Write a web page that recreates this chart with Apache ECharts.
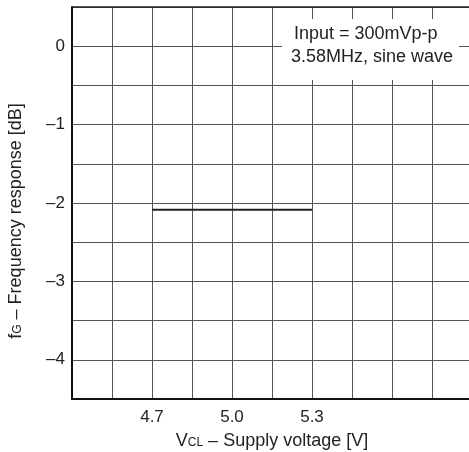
<!DOCTYPE html>
<html>
<head>
<meta charset="utf-8">
<script src="https://cdn.jsdelivr.net/npm/echarts@6/dist/echarts.min.js"></script>
<style>html,body{margin:0;padding:0;background:#fff;}#c{width:469px;height:452px;}</style>
</head>
<body>
<div id="c"></div>
<script>
var supplyVoltage = [4.7, 5.0, 5.3];
var frequencyResponse = [-2.085, -2.085, -2.085];
var xTickLabels = [4.7, 5.0, 5.3];
var yTickLabels = [0, -1, -2, -3, -4];
var noteLines = ['Input = 300mVp-p', '3.58MHz, sine wave'];

var chart = echarts.init(document.getElementById('c'), null, {renderer: 'canvas'});
var font = 'Liberation Sans, Arial, Helvetica, sans-serif';
function near(v, arr) {
  for (var i = 0; i < arr.length; i++) if (Math.abs(v - arr[i]) < 1e-6) return arr[i];
  return null;
}
chart.setOption({
  animation: false,
  backgroundColor: '#fff',
  grid: {left: 72, width: 400, top: 7, height: 392, containLabel: false, outerBoundsMode: 'none'},
  xAxis: {
    type: 'value', min: 4.4, max: 5.9, interval: 0.15,
    name: '{n|V}{s|CL}{n| – Supply voltage [V]}',
    nameLocation: 'middle', nameGap: 33,
    nameTextStyle: {rich: {n: {fontSize: 18, fontFamily: font, color: '#222'}, s: {fontSize: 12, fontFamily: font, color: '#222', padding: [3,0,0,0]}}},
    axisLine: {show: true, onZero: false, lineStyle: {color: '#111', width: 2}},
    axisTick: {show: false},
    axisLabel: {
      fontSize: 17, fontFamily: font, color: '#222', margin: 10,
      formatter: function (v) { var t = near(v, xTickLabels); return t === null ? '' : t.toFixed(1); }
    },
    splitLine: {show: true, lineStyle: {color: '#555', width: 1}}
  },
  yAxis: {
    type: 'value', min: -4.5, max: 0.5, interval: 0.5,
    name: '{n|f}{s|G}{n| – Frequency response [dB]}',
    nameLocation: 'middle', nameGap: 47,
    nameTextStyle: {padding: [0, 0, 0, -36], rich: {n: {fontSize: 18, fontFamily: font, color: '#222'}, s: {fontSize: 12, fontFamily: font, color: '#222', padding: [3,0,0,0]}}},
    axisLine: {show: true, onZero: false, lineStyle: {color: '#111', width: 2}},
    axisTick: {show: false},
    axisLabel: {
      fontSize: 17, fontFamily: font, color: '#222', margin: 7,
      formatter: function (v) { var t = near(v, yTickLabels); return t === null ? '' : (t < 0 ? '–' + Math.abs(t) : String(t)); }
    },
    splitLine: {show: true, lineStyle: {color: '#555', width: 1}}
  },
  graphic: [
    {type: 'line', shape: {x1: 72, y1: 7, x2: 469, y2: 7}, style: {stroke: '#222', lineWidth: 1.5}, z: 10},
    {type: 'rect', shape: {x: 282, y: 19, width: 177, height: 61}, style: {fill: '#fff'}, z: 20},
    {type: 'text', left: 294, top: 25, z: 21, style: {text: noteLines[0], font: '18px ' + font, fill: '#222'}},
    {type: 'text', left: 291, top: 48, z: 21, style: {text: noteLines[1], font: '18px ' + font, fill: '#222'}}
  ],
  series: [{
    type: 'line',
    data: supplyVoltage.map(function (x, i) { return [x, frequencyResponse[i]]; }),
    showSymbol: false, symbol: 'none',
    lineStyle: {color: '#222', width: 2},
    z: 5
  }]
});
</script>
</body>
</html>
